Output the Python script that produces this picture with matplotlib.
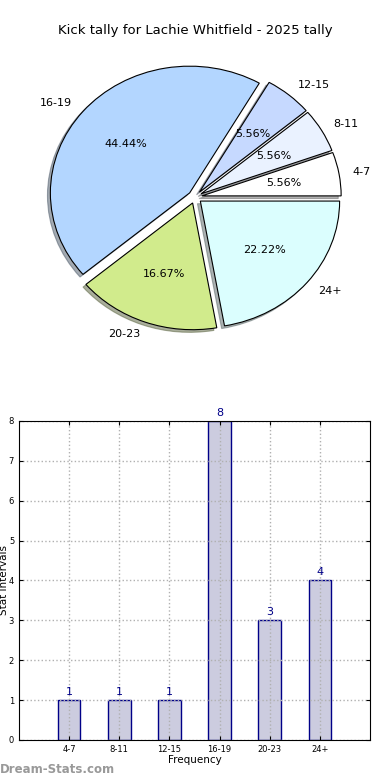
import matplotlib
matplotlib.use("Agg")
import matplotlib.pyplot as plt
import numpy as np

labels = ["4-7", "8-11", "12-15", "16-19", "20-23", "24+"]
counts = [1, 1, 1, 8, 3, 4]
pie_colors = ["#ffffff", "#eaf2ff", "#c6d9ff", "#b3d6ff", "#d1eb8c", "#dbfefe"]

fig = plt.figure(figsize=(3.9, 7.8), dpi=100)

# pie on top (slightly squashed, like the original)
ax1 = fig.add_axes([0, 0.5167, 1, 0.4615])
wedges, texts, autotexts = ax1.pie(
    counts, labels=labels, colors=pie_colors, autopct="%.2f%%",
    explode=[0.05] * len(counts),
    shadow={"ox": -0.015, "oy": -0.015, "shade": 0.6}, startangle=0,
    wedgeprops=dict(edgecolor="black", linewidth=0.8),
    textprops=dict(fontsize=8))
ax1.set_aspect("auto")
ax1.set_xlim(-1.4, 1.4)
ax1.set_ylim(-1.42, 1.42)
ax1.axis("off")
fig.text(0.5, 0.9615, "Kick tally for Lachie Whitfield - 2025 tally",
         ha="center", va="center", fontsize=9.5)

# bars below
ax2 = fig.add_axes([0.0487, 0.0513, 0.9, 0.409])
x = np.arange(len(labels))
ax2.bar(x, counts, width=0.45, color="#ccccdf", edgecolor="#000088", linewidth=1)
for xi, c in zip(x, counts):
    ax2.text(xi, c + 0.08, str(c), ha="center", va="bottom", color="#000088", fontsize=8)
ax2.set_xlim(-1, 6)
ax2.set_ylim(0, 8)
ax2.set_xticks(x)
ax2.set_xticklabels(labels)
ax2.tick_params(labelsize=6, direction="in", top=True, right=True, length=3)
ax2.grid(True, linestyle=":", color="#b0b0b0", linewidth=1)
ax2.set_xlabel("Frequency", fontsize=7.5, labelpad=1)
ax2.set_ylabel("Stat Intervals", fontsize=7.5, labelpad=0)

fig.text(0.0, 0.013, "Dream-Stats.com", color="#999999", fontsize=8.5,
         fontweight="bold", ha="left", va="center")

fig.savefig("out.png", dpi=100)
